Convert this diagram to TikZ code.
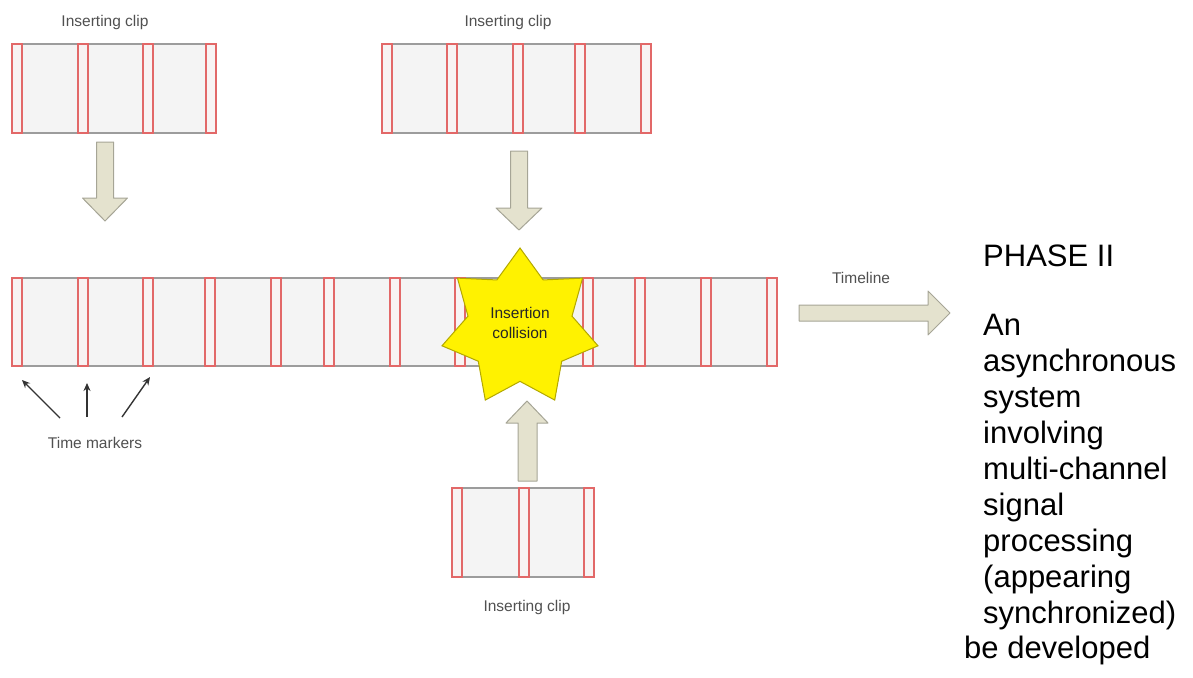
\documentclass[tikz,border=0pt]{standalone}
\usepackage{fontspec}
\setmainfont{Liberation Sans}
\usetikzlibrary{shapes.geometric,arrows.meta}
\definecolor{boxfill}{HTML}{F4F4F4}
\definecolor{boxline}{HTML}{9C9C9C}
\definecolor{markred}{HTML}{E26868}
\definecolor{markfill}{HTML}{F8F3F3}
\definecolor{arrfill}{HTML}{E4E2CE}
\definecolor{arrline}{HTML}{A6A596}
\definecolor{starfill}{HTML}{FFF200}
\definecolor{starline}{HTML}{B3A800}
\definecolor{labelgray}{HTML}{505050}
\begin{document}
\begin{tikzpicture}[x=1pt,y=-1pt,
  clipbox/.style={fill=boxfill,inner sep=0,outer sep=0,anchor=north west},
  frameline/.style={draw=boxline,line width=1.1pt},
  marker/.style={draw=markred,fill=markfill,line width=1.15pt},
  blockarrow/.style={fill=arrfill,draw=arrline,line width=1pt,line join=round},
  lbl/.style={font=\fontsize{15.5}{18}\selectfont,text=labelgray,inner sep=0},
  big/.style={font=\fontsize{31}{36}\selectfont,anchor=base west,inner sep=0},
  pointer/.style={draw=black!80,line width=1.4pt,-{Stealth[length=8pt,width=7pt]}}]
\useasboundingbox (0,0) rectangle (1193,677);

% ---- clips ----
\node[clipbox,minimum width=204pt,minimum height=89pt] (tl) at (12,44) {};
\node[clipbox,minimum width=269pt,minimum height=89pt] (tm) at (382,44) {};
\node[clipbox,minimum width=765pt,minimum height=88pt] (main) at (12,278) {};
\node[clipbox,minimum width=142pt,minimum height=89pt] (bot) at (452,488) {};
\foreach \n in {tl,tm,main,bot}{
  \draw[frameline] (\n.north west) -- (\n.north east) (\n.south west) -- (\n.south east);
}
\foreach \x in {12,78,143,206}{ \draw[marker] (\x,44) rectangle ++(10,89); }
\foreach \x in {382,447,513,575,641}{ \draw[marker] (\x,44) rectangle ++(10,89); }
\foreach \x in {12,78,143,205,271,324,390,455,520,583,635,701,767}{ \draw[marker] (\x,278) rectangle ++(10,88); }
\foreach \x in {452,519,584}{ \draw[marker] (\x,488) rectangle ++(10,89); }

% ---- labels ----
\node[lbl] (ltl) at (105,22) {Inserting clip};
\node[lbl] (ltm) at (508,22) {Inserting clip};
\node[lbl] (lbot) at (527,607) {Inserting clip};
\node[lbl] (ltime) at (861,278) {Timeline};
\node[lbl] (lmark) at (95,443) {Time markers};

% ---- block arrows ----
\draw[blockarrow] (96.5,142) -- (113.5,142) -- (113.5,198) -- (127.5,198) -- (105,221) -- (82.5,198) -- (96.5,198) -- cycle;
\draw[blockarrow] (510.5,151) -- (527.5,151) -- (527.5,208) -- (542,208) -- (519,230) -- (496,208) -- (510.5,208) -- cycle;
\draw[blockarrow] (518,481) -- (537,481) -- (537,423) -- (548,423) -- (527,401) -- (506,423) -- (518,423) -- cycle;
\draw[blockarrow] (799,305) -- (928,305) -- (928,291) -- (950,313) -- (928,335) -- (928,321) -- (799,321) -- cycle;

% ---- star ----
\node[star,star points=7,star point ratio=1.5,minimum size=160pt,inner sep=0,
      draw=starline,fill=starfill,line width=1pt] (star) at (520,328) {};
\node[align=center,font=\fontsize{15.5}{20}\selectfont,text=black!85,inner sep=0] (startext) at (520,323) {Insertion\\collision};

% ---- time marker pointers ----
\coordinate (p1s) at (60,418); \coordinate (p1e) at (22,380);
\coordinate (p2s) at (87,417); \coordinate (p2e) at (87,383);
\coordinate (p3s) at (122,417); \coordinate (p3e) at (150,377);
\draw[pointer] (p1s) -- (p1e);
\draw[pointer] (p2s) -- (p2e);
\draw[pointer] (p3s) -- (p3e);

% ---- side text ----
\node[big] (phase) at (983,266) {PHASE II};
\node[big] (t1) at (983,335) {An};
\node[big] (t2) at (983,371) {asynchronous};
\node[big] (t3) at (983,407) {system};
\node[big] (t4) at (983,443) {involving};
\node[big] (t5) at (983,479) {multi-channel};
\node[big] (t6) at (983,515) {signal};
\node[big] (t7) at (983,551) {processing};
\node[big] (t8) at (983,587) {(appearing};
\node[big] (t9) at (983,623) {synchronized)};
\node[big] (t10) at (964,658) {be developed};
\end{tikzpicture}
\end{document}
